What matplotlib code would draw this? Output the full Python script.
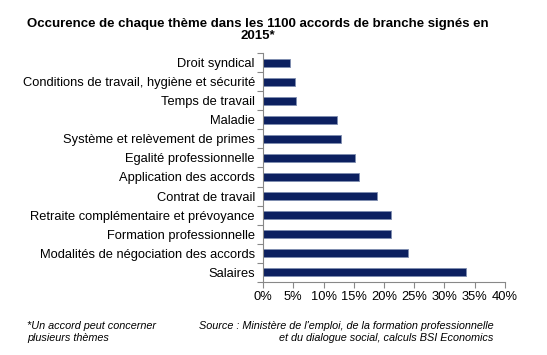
import matplotlib.pyplot as plt
import numpy as np
from matplotlib.ticker import PercentFormatter

plt.rcParams['font.family'] = ['Liberation Sans', 'DejaVu Sans']

# Themes, top to bottom as shown
themes = [
    "Droit syndical",
    "Conditions de travail, hygiène et sécurité",
    "Temps de travail",
    "Maladie",
    "Système et relèvement de primes",
    "Egalité professionnelle",
    "Application des accords",
    "Contrat de travail",
    "Retraite complémentaire et prévoyance",
    "Formation professionnelle",
    "Modalités de négociation des accords",
    "Salaires",
]
shares = [4.5, 5.3, 5.5, 12.3, 12.9, 15.2, 15.9, 18.8, 21.1, 21.1, 24.0, 33.6]

fig = plt.figure(figsize=(5.47, 3.55), dpi=100)
ax = fig.add_axes([0.481, 0.2065, 0.442, 0.6435])

pos = np.arange(len(themes))
ax.barh(pos, shares, height=0.4, color='#0c2060', edgecolor='#7f8db0', linewidth=0.6)
ax.set_ylim(len(themes) - 0.5, -0.5)
ax.set_xlim(0, 40)
ax.set_xticks(np.arange(0, 41, 5))
ax.xaxis.set_major_formatter(PercentFormatter(decimals=0))

# category ticks sit between bars
ax.set_yticks(pos)
ax.set_yticklabels(themes, fontsize=9.3)
ax.set_yticks(np.arange(-0.5, len(themes), 1), minor=True)
ax.tick_params(axis='y', which='major', length=0, pad=6)
ax.tick_params(axis='y', which='minor', length=4, color='#888888', width=0.8)
ax.tick_params(axis='x', length=4, color='#888888', width=0.8, labelsize=9.3, pad=3)

for s in ['top', 'right']:
    ax.spines[s].set_visible(False)
for s in ['left', 'bottom']:
    ax.spines[s].set_color('#888888')
    ax.spines[s].set_linewidth(0.8)

fig.text(0.472, 0.95, "Occurence de chaque thème dans les 1100 accords de branche signés en\n2015*",
         ha='center', va='top', fontsize=9.5, fontweight='bold', linespacing=1.0)

fig.text(0.05, 0.097, "*Un accord peut concerner\nplusieurs thèmes",
         ha='left', va='top', fontsize=7.8, style='italic', linespacing=1.25)
fig.text(0.902, 0.097, "Source : Ministère de l'emploi, de la formation professionnelle\net du dialogue social, calculs BSI Economics",
         ha='right', va='top', fontsize=7.8, style='italic', linespacing=1.25)

fig.savefig('out.png', dpi=100)
